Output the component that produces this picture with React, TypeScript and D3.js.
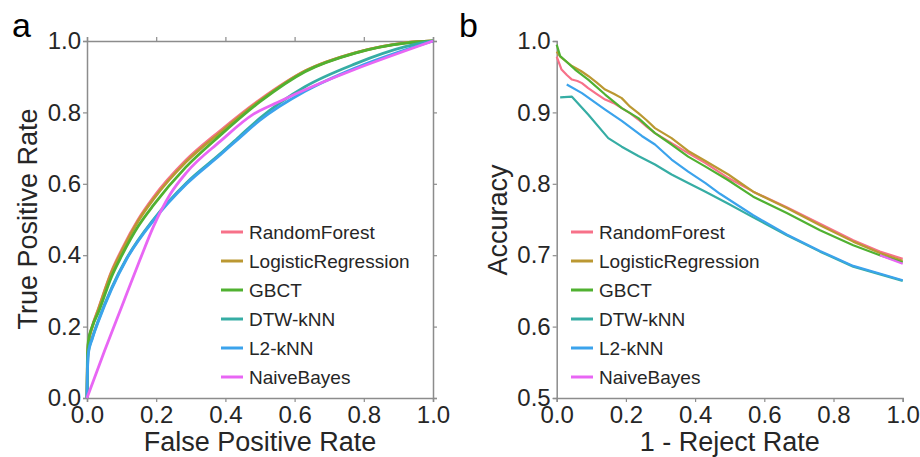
import React, { useEffect, useRef } from 'react';
import * as d3 from 'd3';

type P = [number, number];

const methods = ['RandomForest', 'LogisticRegression', 'GBCT', 'DTW-kNN', 'L2-kNN', 'NaiveBayes'];
const colors = ['#f77189', '#bb9832', '#50b131', '#36ada4', '#3ba3ec', '#e866f4'];
const rocTicks = [0, 0.2, 0.4, 0.6, 0.8, 1.0];
const accXTicks = [0, 0.2, 0.4, 0.6, 0.8, 1.0];
const accYTicks = [0.5, 0.6, 0.7, 0.8, 0.9, 1.0];

// Panel a: ROC curves (FPR, TPR)
const rocRandomForest: P[] = [[0, 0], [0.001, 0.08], [0.004, 0.155], [0.015, 0.2], [0.033, 0.25], [0.071, 0.355], [0.1, 0.415], [0.148, 0.5], [0.192, 0.562], [0.285, 0.665], [0.384, 0.748], [0.5, 0.836], [0.63, 0.916], [0.775, 0.967], [0.92, 0.995], [1, 1]];
const rocLogistic: P[] = [[0, 0], [0.001, 0.08], [0.004, 0.153], [0.015, 0.198], [0.033, 0.248], [0.071, 0.352], [0.1, 0.41], [0.148, 0.496], [0.192, 0.557], [0.285, 0.66], [0.384, 0.743], [0.5, 0.833], [0.63, 0.916], [0.775, 0.967], [0.92, 0.995], [1, 1]];
const rocGBCT: P[] = [[0, 0], [0.001, 0.1], [0.004, 0.16], [0.015, 0.2], [0.033, 0.24], [0.071, 0.34], [0.1, 0.398], [0.148, 0.481], [0.192, 0.54], [0.285, 0.646], [0.384, 0.735], [0.5, 0.83], [0.63, 0.914], [0.775, 0.966], [0.92, 0.994], [1, 1]];
const rocDTW: P[] = [[0, 0], [0.001, 0.07], [0.004, 0.13], [0.015, 0.168], [0.033, 0.218], [0.071, 0.308], [0.115, 0.392], [0.192, 0.5], [0.288, 0.603], [0.384, 0.683], [0.44, 0.732], [0.5, 0.784], [0.63, 0.872], [0.775, 0.936], [0.92, 0.984], [1, 1]];
const rocL2: P[] = [[0, 0], [0.001, 0.06], [0.004, 0.125], [0.015, 0.165], [0.033, 0.215], [0.071, 0.305], [0.115, 0.39], [0.192, 0.497], [0.288, 0.6], [0.384, 0.68], [0.44, 0.728], [0.5, 0.778], [0.63, 0.859], [0.775, 0.924], [0.92, 0.975], [1, 1]];
const rocNaiveBayes: P[] = [[0, 0], [0.05, 0.13], [0.1, 0.255], [0.153, 0.387], [0.192, 0.48], [0.24, 0.57], [0.288, 0.632], [0.384, 0.718], [0.481, 0.795], [0.55, 0.828], [1, 1]];

// Panel b: accuracy vs 1 - reject rate
const accRandomForest: P[] = [[0, 0.978], [0.014, 0.96], [0.03, 0.952], [0.044, 0.946], [0.06, 0.944], [0.073, 0.941], [0.091, 0.934], [0.115, 0.926], [0.14, 0.918], [0.165, 0.913], [0.188, 0.906], [0.212, 0.899], [0.236, 0.89], [0.26, 0.88], [0.284, 0.871], [0.332, 0.857], [0.38, 0.843], [0.43, 0.829], [0.496, 0.808], [0.568, 0.789], [0.665, 0.767], [0.761, 0.744], [0.857, 0.721], [0.934, 0.705], [1, 0.695]];
const accLogistic: P[] = [[0, 0.985], [0.01, 0.978], [0.044, 0.965], [0.07, 0.958], [0.091, 0.951], [0.115, 0.942], [0.14, 0.932], [0.165, 0.926], [0.188, 0.92], [0.212, 0.908], [0.236, 0.899], [0.26, 0.889], [0.284, 0.878], [0.332, 0.864], [0.38, 0.846], [0.43, 0.832], [0.496, 0.813], [0.568, 0.789], [0.665, 0.766], [0.761, 0.742], [0.857, 0.719], [0.934, 0.703], [1, 0.692]];
const accGBCT: P[] = [[0, 0.995], [0.01, 0.979], [0.053, 0.96], [0.091, 0.946], [0.14, 0.925], [0.188, 0.906], [0.236, 0.892], [0.284, 0.871], [0.332, 0.855], [0.38, 0.838], [0.43, 0.824], [0.496, 0.805], [0.568, 0.782], [0.665, 0.759], [0.761, 0.735], [0.857, 0.714], [0.934, 0.7], [1, 0.69]];
const accDTW: P[] = [[0.01, 0.921], [0.044, 0.922], [0.091, 0.897], [0.149, 0.864], [0.188, 0.852], [0.236, 0.839], [0.284, 0.827], [0.332, 0.813], [0.38, 0.801], [0.43, 0.789], [0.496, 0.772], [0.568, 0.753], [0.665, 0.728], [0.761, 0.705], [0.857, 0.684], [1, 0.664]];
const accL2: P[] = [[0.029, 0.939], [0.073, 0.927], [0.14, 0.904], [0.188, 0.888], [0.246, 0.867], [0.284, 0.855], [0.332, 0.834], [0.38, 0.817], [0.43, 0.801], [0.472, 0.786], [0.568, 0.756], [0.665, 0.729], [0.761, 0.706], [0.857, 0.685], [1, 0.665]];
const accNaiveBayes: P[] = [[0.934, 0.7], [1, 0.688]];

const rocSeries = [rocRandomForest, rocLogistic, rocGBCT, rocDTW, rocL2, rocNaiveBayes];
const accSeries = [accRandomForest, accLogistic, accGBCT, accDTW, accL2, accNaiveBayes];

const FONT = '"Liberation Sans", Arial, Helvetica, sans-serif';
const TEXT = '#262626';
const AXIS = '#8c8c8c';

export default function App() {
  const ref = useRef<SVGSVGElement | null>(null);

  useEffect(() => {
    const svg = d3.select(ref.current);
    svg.selectAll('*').remove();
    const fmt = d3.format('.1f');

    const styleAxis = (g: any, labels: boolean) => {
      g.select('.domain').attr('stroke', AXIS).attr('stroke-width', 1.5);
      g.selectAll('.tick line').attr('stroke', AXIS).attr('stroke-width', 1.2);
      g.selectAll('.tick text').attr('fill', TEXT).style('font-family', FONT).style('font-size', '24px');
      if (!labels) g.selectAll('.tick text').remove();
    };

    // ---------- Panel a ----------
    const xa = d3.scaleLinear().domain([0, 1]).range([87, 433]);
    const ya = d3.scaleLinear().domain([0, 1]).range([398, 41]);
    const ga = svg.append('g');

    ga.append('g').attr('transform', 'translate(0,398)')
      .call(d3.axisBottom(xa).tickValues(rocTicks).tickFormat(fmt as any).tickSizeOuter(0).tickSize(4).tickPadding(4))
      .call((g: any) => styleAxis(g, true));
    ga.append('g').attr('transform', 'translate(0,41)')
      .call(d3.axisTop(xa).tickValues(rocTicks).tickSizeOuter(0).tickSize(4))
      .call((g: any) => styleAxis(g, false));
    ga.append('g').attr('transform', 'translate(87,0)')
      .call(d3.axisLeft(ya).tickValues(rocTicks).tickFormat(fmt as any).tickSizeOuter(0).tickSize(4).tickPadding(2))
      .call((g: any) => styleAxis(g, true));
    ga.append('g').attr('transform', 'translate(433,0)')
      .call(d3.axisRight(ya).tickValues(rocTicks).tickSizeOuter(0).tickSize(4))
      .call((g: any) => styleAxis(g, false));

    const lineA = d3.line<P>().x(d => xa(d[0])).y(d => ya(d[1])).curve(d3.curveMonotoneX);
    rocSeries.forEach((s, i) => {
      ga.append('path').datum(s).attr('d', lineA).attr('fill', 'none')
        .attr('stroke', colors[i]).attr('stroke-width', 2.8).attr('stroke-linejoin', 'round');
    });

    ga.append('text').attr('x', 260).attr('y', 451).attr('text-anchor', 'middle')
      .attr('fill', TEXT).style('font-family', FONT).style('font-size', '27px').text('False Positive Rate');
    ga.append('text').attr('transform', 'translate(37,219) rotate(-90)').attr('text-anchor', 'middle')
      .attr('fill', TEXT).style('font-family', FONT).style('font-size', '27px').text('True Positive Rate');
    ga.append('text').attr('x', 12).attr('y', 37)
      .attr('fill', '#000').style('font-family', FONT).style('font-size', '34px').text('a');

    // ---------- Panel b ----------
    const xb = d3.scaleLinear().domain([0, 1]).range([556.7, 902.7]);
    const yb = d3.scaleLinear().domain([0.5, 1]).range([398, 41]);
    const gb = svg.append('g');
    gb.append('g').attr('transform', 'translate(0,398)')
      .call(d3.axisBottom(xb).tickValues(accXTicks).tickFormat(fmt as any).tickSizeOuter(0).tickSize(4).tickPadding(4))
      .call((g: any) => styleAxis(g, true));
    gb.append('g').attr('transform', 'translate(556.7,0)')
      .call(d3.axisLeft(yb).tickValues(accYTicks).tickFormat(fmt as any).tickSizeOuter(0).tickSize(4).tickPadding(2))
      .call((g: any) => styleAxis(g, true));

    const lineB = d3.line<P>().x(d => xb(d[0])).y(d => yb(d[1]));
    accSeries.forEach((s, i) => {
      gb.append('path').datum(s).attr('d', lineB).attr('fill', 'none')
        .attr('stroke', colors[i]).attr('stroke-width', 2.2).attr('stroke-linejoin', 'round');
    });

    gb.append('text').attr('x', 729.7).attr('y', 451).attr('text-anchor', 'middle')
      .attr('fill', TEXT).style('font-family', FONT).style('font-size', '27px').text('1 - Reject Rate');
    gb.append('text').attr('transform', 'translate(507,220) rotate(-90)').attr('text-anchor', 'middle')
      .attr('fill', TEXT).style('font-family', FONT).style('font-size', '27px').text('Accuracy');
    gb.append('text').attr('x', 459).attr('y', 37)
      .attr('fill', '#000').style('font-family', FONT).style('font-size', '34px').text('b');

    // ---------- Legends ----------
    const legend = (g: any, x0: number) => {
      methods.forEach((m, i) => {
        const y = 232 + i * 29;
        g.append('line').attr('x1', x0).attr('x2', x0 + 22).attr('y1', y).attr('y2', y)
          .attr('stroke', colors[i]).attr('stroke-width', 3);
        g.append('text').attr('x', x0 + 28).attr('y', y).attr('dy', '0.35em')
          .attr('fill', TEXT).style('font-family', FONT).style('font-size', '19px').text(m);
      });
    };
    legend(ga, 221);
    legend(gb, 571);
  }, []);

  return (
    <svg ref={ref} width={920} height={457}
      style={{ position: 'absolute', left: 0, top: 0, background: '#fff' }} />
  );
}
